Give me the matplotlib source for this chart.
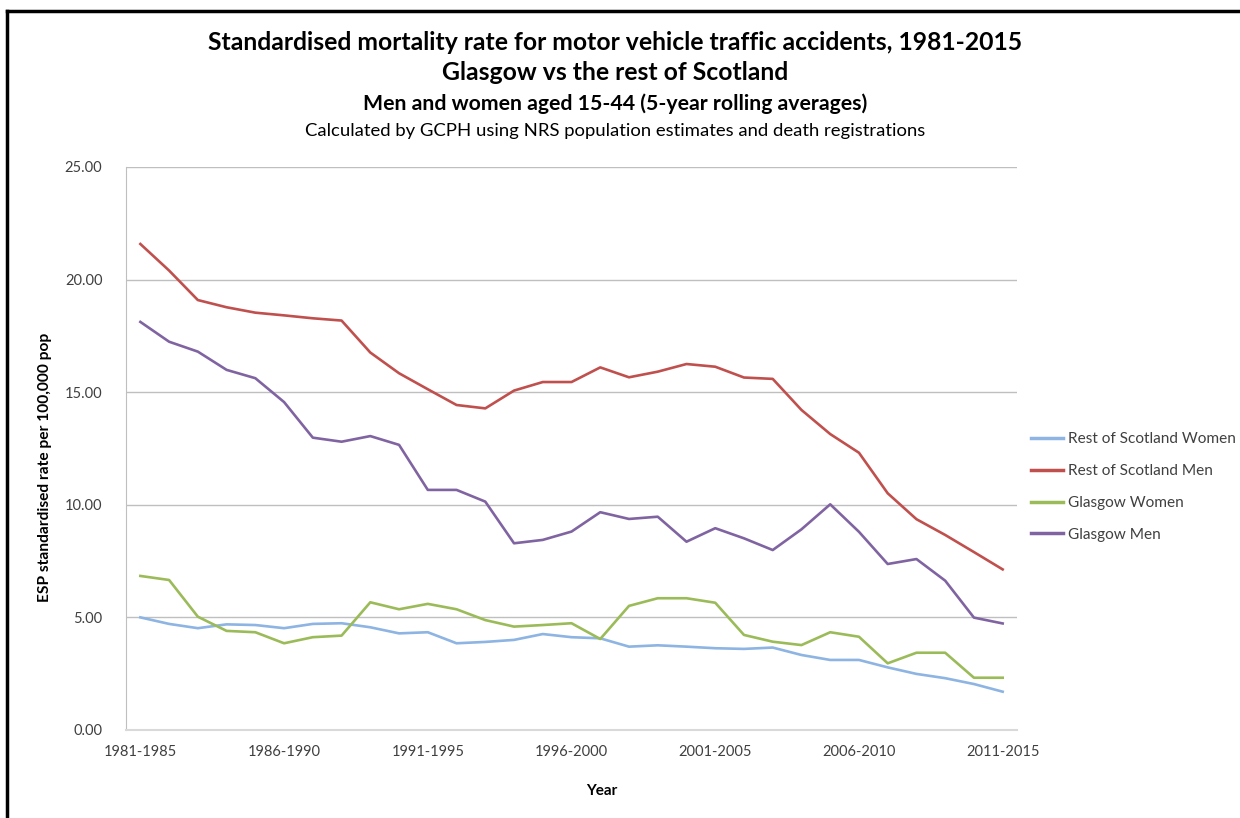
import matplotlib.pyplot as plt
from matplotlib.lines import Line2D

plt.rcParams['font.family'] = ['Lato', 'DejaVu Sans']

# Data: 5-year rolling periods
periods = [f"{y}-{y + 4}" for y in range(1981, 2012)]

rest_women = [5.00, 4.71, 4.52, 4.69, 4.66, 4.52, 4.71, 4.74, 4.56, 4.29,
              4.34, 3.85, 3.91, 4.00, 4.26, 4.12, 4.07, 3.70, 3.76, 3.70,
              3.63, 3.60, 3.66, 3.33, 3.11, 3.11, 2.78, 2.49, 2.30, 2.04, 1.70]
rest_men = [21.58, 20.40, 19.09, 18.77, 18.53, 18.41, 18.28, 18.18, 16.76, 15.84,
            15.13, 14.43, 14.28, 15.07, 15.45, 15.45, 16.10, 15.66, 15.91, 16.25,
            16.13, 15.65, 15.59, 14.21, 13.14, 12.31, 10.51, 9.36, 8.66, 7.90, 7.13]
glasgow_women = [6.84, 6.66, 5.03, 4.40, 4.34, 3.85, 4.12, 4.19, 5.67, 5.36,
                 5.60, 5.36, 4.88, 4.59, 4.66, 4.74, 4.04, 5.51, 5.85, 5.85,
                 5.65, 4.22, 3.92, 3.77, 4.34, 4.14, 2.96, 3.43, 3.43, 2.32, 2.32]
glasgow_men = [18.12, 17.24, 16.80, 15.99, 15.62, 14.56, 12.98, 12.80, 13.05, 12.66,
               10.66, 10.66, 10.14, 8.29, 8.44, 8.81, 9.67, 9.37, 9.47, 8.36,
               8.96, 8.51, 7.99, 8.91, 10.02, 8.80, 7.37, 7.59, 6.63, 4.99, 4.73]

series = [
    ("Rest of Scotland Women", rest_women, '#8DB4E2'),
    ("Rest of Scotland Men", rest_men, '#C0504D'),
    ("Glasgow Women", glasgow_women, '#9BBB59'),
    ("Glasgow Men", glasgow_men, '#8064A2'),
]

fig = plt.figure(figsize=(12.4, 8.18), dpi=100)
ax = fig.add_axes([0.1016, 0.1076, 0.7186, 0.6883])

x = list(range(len(periods)))
for name, vals, col in series:
    ax.plot(x, vals, color=col, lw=1.9, label=name, solid_joinstyle='round')

ax.set_xlim(-0.5, len(periods) - 0.5)
ax.set_ylim(0, 25)
ax.set_yticks([0, 5, 10, 15, 20, 25])
ax.set_yticklabels([f"{v:.2f}" for v in [0, 5, 10, 15, 20, 25]])
ax.set_xticks(x[::5])
ax.set_xticklabels(periods[::5])
ax.tick_params(axis='y', length=0, pad=17, labelsize=10.5, labelcolor='#404040')
ax.tick_params(axis='x', length=0, pad=11, labelsize=10.5, labelcolor='#404040')
ax.grid(axis='y', color='#BFBFBF', lw=1)
ax.set_axisbelow(True)
for s in ['top', 'right']:
    ax.spines[s].set_visible(False)
ax.spines['left'].set_color('#BFBFBF')
ax.spines['bottom'].set_color('#D9D9D9')
ax.spines['bottom'].set_linewidth(1.5)

fig.text(45 / 1240, 1 - 467 / 818, "ESP standardised rate per 100,000 pop", rotation=90,
         ha='center', va='center', fontsize=11.2, fontweight='bold')
fig.text(602 / 1240, 1 - 791 / 818, "Year", ha='center', va='center',
         fontsize=11, fontweight='bold')

# titles
fig.text(615 / 1240, 1 - 43 / 818,
         "Standardised mortality rate for motor vehicle traffic accidents, 1981-2015",
         ha='center', va='center', fontsize=17.8, fontweight='bold')
fig.text(615 / 1240, 1 - 73 / 818, "Glasgow vs the rest of Scotland",
         ha='center', va='center', fontsize=17.8, fontweight='bold')
fig.text(615 / 1240, 1 - 104 / 818, "Men and women aged 15-44 (5-year rolling averages)",
         ha='center', va='center', fontsize=15.3, fontweight='bold')
fig.text(615 / 1240, 1 - 131 / 818,
         "Calculated by GCPH using NRS population estimates and death registrations",
         ha='center', va='center', fontsize=13.3)

handles = [Line2D([], [], color=c, lw=2.5) for _, _, c in series]
fig.legend(handles, [n for n, _, _ in series], loc='center left',
           bbox_to_anchor=(1017 / 1240, 1 - 487 / 818), frameon=False,
           fontsize=11.1, handlelength=2.1, handletextpad=0.33, labelspacing=1.16,
           labelcolor='#404040')

# outer frame
fig.add_artist(Line2D([7 / 1240, 7 / 1240], [0, 1 - 11 / 818], color='black', lw=2.5,
                      transform=fig.transFigure))
fig.add_artist(Line2D([7 / 1240, 1], [1 - 11 / 818, 1 - 11 / 818], color='black', lw=2.5,
                      transform=fig.transFigure))

fig.savefig("out.png", dpi=100)
